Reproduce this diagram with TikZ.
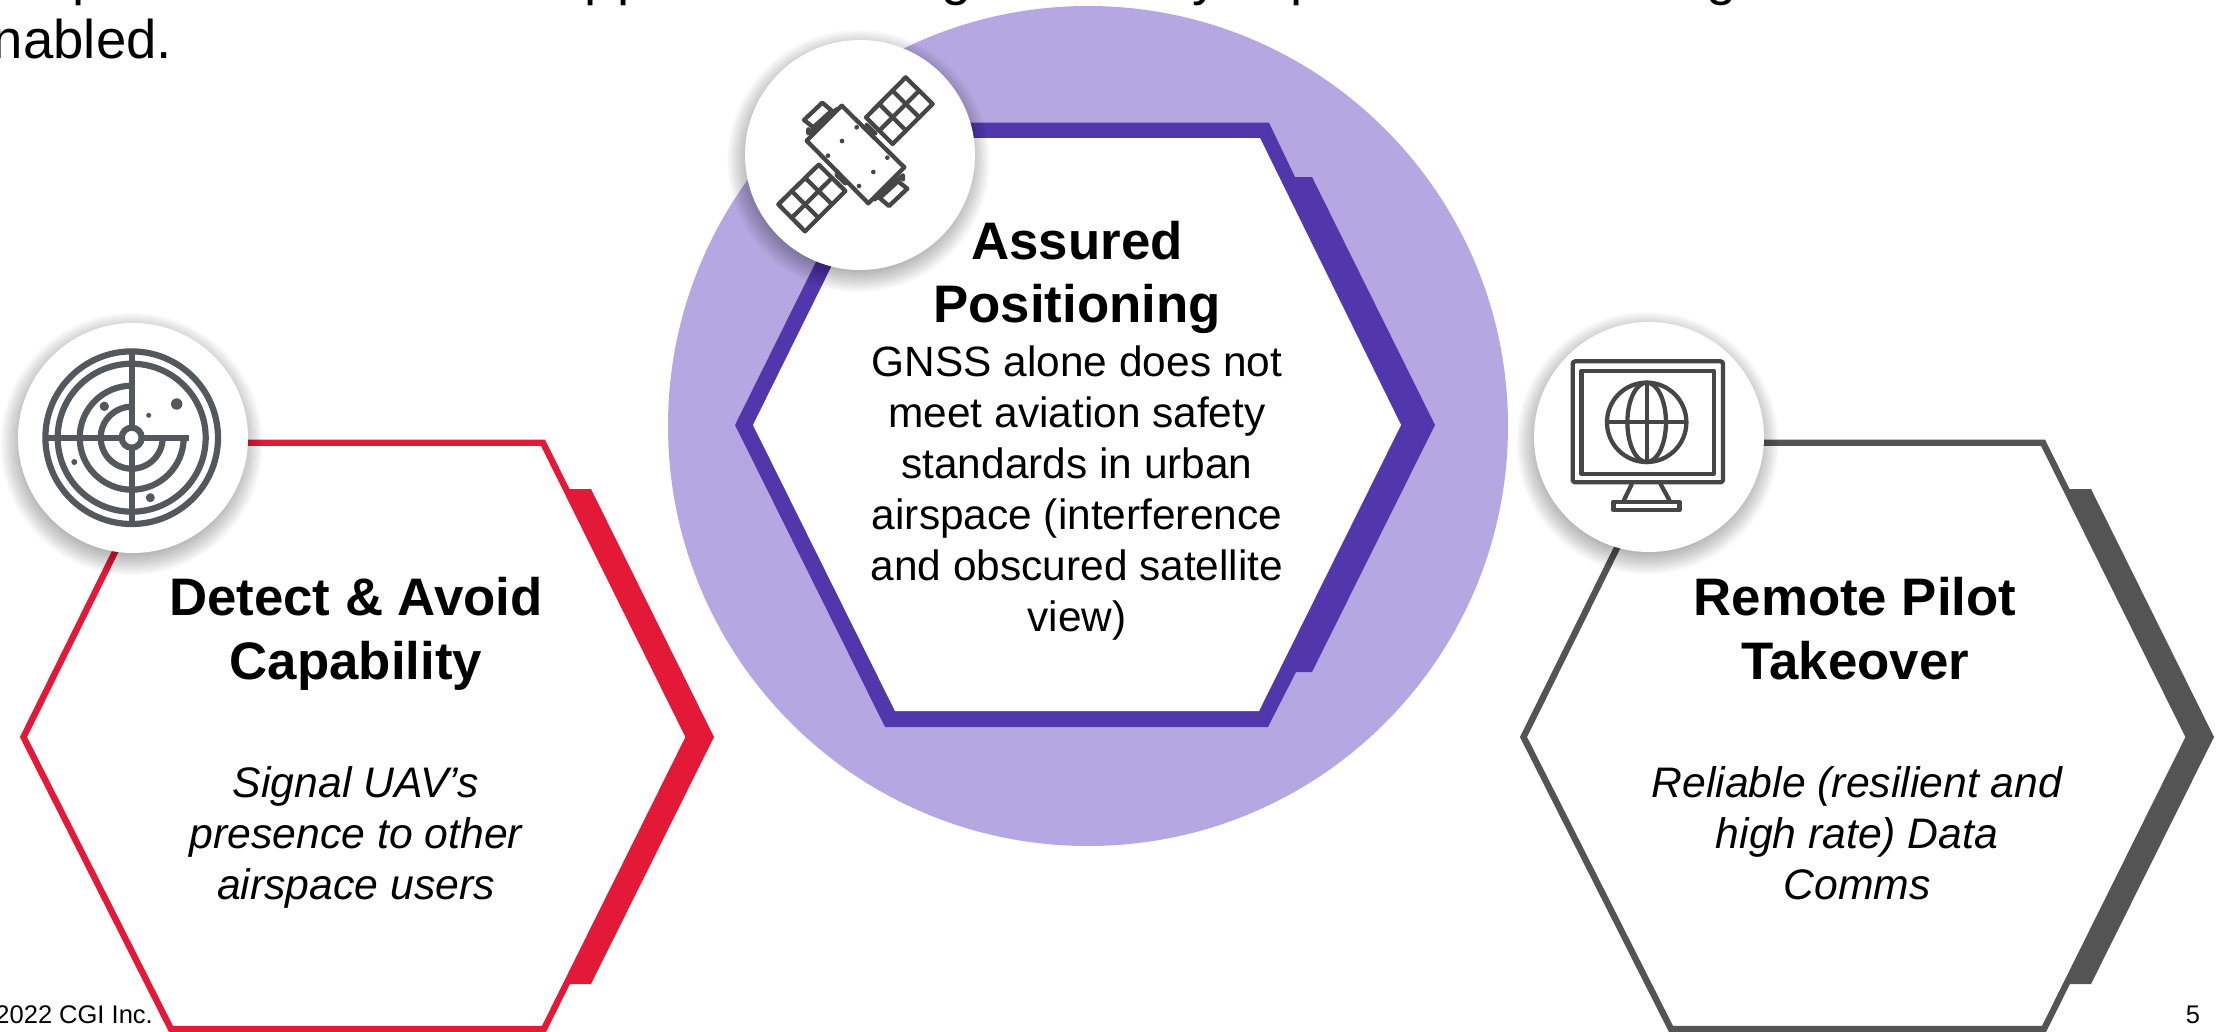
\documentclass[tikz,border=0pt]{standalone}
\usepackage{fontspec}
\setmainfont{Liberation Sans}
\definecolor{cgired}{HTML}{E31937}
\definecolor{cgigray}{HTML}{545454}
\definecolor{cgipurple}{HTML}{5236AB}
\definecolor{cgililac}{HTML}{B5A8E2}
\definecolor{iconradar}{HTML}{53585C}
\definecolor{iconline}{HTML}{464646}
\newcommand{\sideplate}[2]{%
  \begin{scope}[xshift=#1pt]
    \draw[#2,line width=6.4pt,miter limit=10,fill=none] (23.5,737) -- (169,442.7) -- (543,442.7) -- (689,737) -- (544,1029) -- (171,1029) -- cycle;
    \fill[#2] (568,489) -- (591,489) -- (714,737) -- (591,984) -- (568,984) -- (686,737) -- cycle;
  \end{scope}}
\newcommand{\softdisc}[2]{%
  \foreach \d in {-4,-2,...,16} {\fill[black,opacity=0.028] (#1-1.5,#2+6) circle[radius=115+\d];}
  \fill[white] (#1,#2) circle[radius=115];}
\tikzset{
  headtxt/.style={inner sep=0pt,align=center,anchor=base,font=\fontsize{52.8}{63.5}\selectfont\bfseries},
  subtxt/.style={inner sep=0pt,align=center,anchor=base,font=\fontsize{42.7}{51}\selectfont\itshape},
  bodytxt/.style={inner sep=0pt,align=center,anchor=base,font=\fontsize{42.4}{51}\selectfont},
  slidetxt/.style={inner sep=0pt,font=\fontsize{54.5}{65}\selectfont},
  foottxt/.style={inner sep=0pt,font=\fontsize{25.5}{30}\selectfont},
  radar/.style={draw=iconradar,line width=6.2pt,fill=none},
  iconln/.style={draw=iconline,line width=4.3pt,fill=none,line join=round,line cap=round},
}
\begin{document}
\begin{tikzpicture}[x=1pt,y=-1pt]
\useasboundingbox (0,0) rectangle (2221,1031);
\fill[white] (0,0) rectangle (2221,1031);

% cut-off slide text
\node[slidetxt,anchor=base east] (enabled) at (172,58) {nabled.};
\node[slidetxt,anchor=base west] (tp1) at (72,-6) {p};
\node[slidetxt,anchor=base west] (tp2) at (584,-6) {p};
\node[slidetxt,anchor=base west] (tp3) at (617,-6) {p};
\node[slidetxt,anchor=base west] (tg1) at (941,-6) {g};
\node[slidetxt,anchor=base west] (ty1) at (1192,-6) {y};
\node[slidetxt,anchor=base west] (tp4) at (1290,-6) {p};
\node[slidetxt,anchor=base west] (tg2) at (1706,-6) {g};

% centre
\fill[cgililac] (1088,426) circle[radius=420];
\fill[cgipurple] (735,425) -- (885,122.7) -- (1269,122.7) -- (1295,177) -- (1312,177) -- (1435,425) -- (1312,672) -- (1296,672) -- (1268,727) -- (885,727) -- cycle;
\fill[white] (753,425) -- (895,138) -- (1260,138) -- (1401,425) -- (1259,711) -- (895,711) -- cycle;

% side hexagons
\sideplate{0}{cgired}
\sideplate{1500}{cgigray}

% texts
\node[headtxt] (assured) at (1077,322.7) {Assured\\Positioning};
\node[bodytxt] (gnss) at (1077,631.7) {GNSS alone does not\\meet aviation safety\\standards in urban\\airspace (interference\\and obscured satellite\\view)};
\node[headtxt] (detect) at (356,679) {Detect \& Avoid\\Capability};
\node[subtxt] (signal) at (356,899) {Signal UAV’s\\presence to other\\airspace users};
\node[headtxt] (remote) at (1855,679) {Remote Pilot\\Takeover};
\node[subtxt] (reliable) at (1857,899) {Reliable (resilient and\\high rate) Data\\Comms};
\node[foottxt,anchor=base east] (copy) at (153,1023.5) {2022 CGI Inc.};
\node[foottxt,anchor=base] (pageno) at (2193,1023.5) {5};

% radar disc
\softdisc{133}{438}
\begin{scope}[shift={(131.7,437.7)}]
  \draw[radar] (0,0) circle[radius=86.3];
  \draw[radar] (0,0) circle[radius=74];
  \draw[radar] (0,-52) arc[start angle=-90,end angle=-360,radius=52];
  \draw[radar] (0,-31) arc[start angle=-90,end angle=-360,radius=31];
  \draw[radar] (0,-89) -- (0,89);
  \draw[radar] (-89,0) -- (57,0);
  \draw[radar,fill=white] (0,0) circle[radius=10];
\end{scope}
\foreach \px/\py/\pr in {104.3/406.3/4.7, 176.7/404/5.7, 148.7/415.3/2.5, 74.3/462/3, 150.3/497.7/4.5} {\fill[iconradar] (\px,\py) circle[radius=\pr];}

% satellite disc
\softdisc{860}{155}
\begin{scope}[shift={(740,40)},x=0.33333pt,y=-0.33333pt]
  \draw[iconln] (305,197) -- (493,382) -- (385,490) -- (200,302) -- cycle;
  % upper panel
  \draw[iconln] (497,112) -- (578,192) -- (458,312) -- (378,232) -- cycle;
  \draw[iconln] (537.5,152) -- (418,272);
  \draw[iconln] (457.3,152) -- (538,232);
  \draw[iconln] (417.7,192) -- (498,272);
  % lower panel
  \draw[iconln] (236,374) -- (316,453) -- (195,574) -- (115,493) -- cycle;
  \draw[iconln] (276,413.5) -- (155,533.5);
  \draw[iconln] (195.7,414) -- (276,493);
  \draw[iconln] (155.3,453.5) -- (235.5,533.5);
  % thrusters
  \draw[iconln] (192,240) -- (247,188) -- (275,212) -- (220,262) -- cycle;
  \draw[iconln] (205,268) -- (205,280) -- (290,208);
  \draw[iconln] (502,446) -- (447,498) -- (419,474) -- (474,424) -- cycle;
  \draw[iconln] (489,418) -- (489,406) -- (404,478);
  \draw[iconln] (290,405) -- (316,430);
  \draw[iconln] (380,255) -- (406,280);
  \foreach \px/\py in {350/262,306/303,264/347,442/353,400/396,357/438} {\fill[iconline] (\px,\py) circle[radius=7];}
\end{scope}

% monitor disc
\softdisc{1649}{437}
\begin{scope}[shift={(1530,325)},x=0.33333pt,y=-0.33333pt]
  \draw[iconln,rounded corners=2.5pt] (128,109) rectangle (579,472);
  \draw[iconln] (154,138) rectangle (551,446);
  \draw[iconln] (350,292) circle[radius=39.7pt];
  \draw[iconln] (350,292) ellipse[x radius=19.3pt,y radius=39.7pt];
  \draw[iconln] (350,173) -- (350,411);
  \draw[iconln] (231,292) -- (469,292);
  \draw[iconln] (305,478) -- (282,525);
  \draw[iconln] (392,478) -- (418,525);
  \draw[iconln] (250,530) rectangle (448,556);
\end{scope}
\end{tikzpicture}
\end{document}
